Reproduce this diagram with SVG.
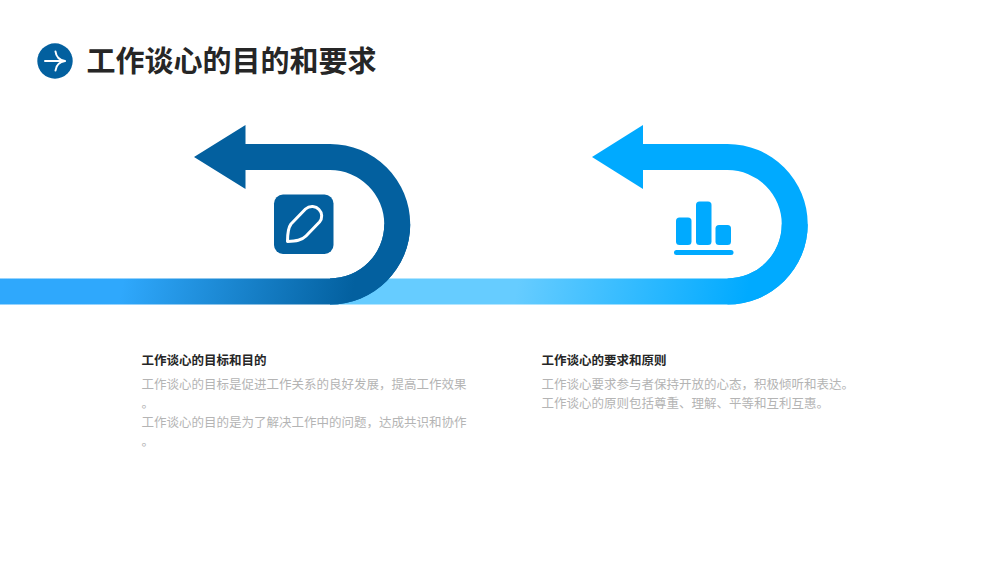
<svg xmlns="http://www.w3.org/2000/svg" width="1000" height="563" viewBox="0 0 1000 563">
<style>
.h{font-family:"Noto Sans CJK SC","Noto Sans",sans-serif;font-weight:700}
.t{font-size:12.500px;fill:#262626}
.b{font-family:"Noto Sans CJK SC","Noto Sans",sans-serif;font-size:12.500px;fill:#b4b4b4}
</style>
<defs>
<linearGradient id="g1" gradientUnits="userSpaceOnUse" x1="125" y1="270" x2="350" y2="310"><stop offset="0" stop-color="#2fa8fc"/><stop offset="1" stop-color="#03609f"/></linearGradient>
<linearGradient id="g2" gradientUnits="userSpaceOnUse" x1="520" y1="270" x2="745" y2="310"><stop offset="0" stop-color="#66ccff"/><stop offset="1" stop-color="#00aaff"/></linearGradient>
</defs>
<rect width="1000" height="563" fill="#fff"/>
<g id="title-icon"><circle cx="55" cy="61" r="17.700" fill="#03609f"/><path d="M45 61H65M65 61C59 60 56 56 55.500 51.500M65 61C59 62 56 66 55.500 70.500" fill="none" stroke="#fff" stroke-width="2" stroke-linecap="round"/></g>
<text id="title" class="h" x="86.500" y="72" font-size="29" fill="#262626">工作谈心的目的和要求</text>
<g id="connectors">
<path d="M592 157L643 125V144H727.500A80.250 80.250 0 0 1 727.500 304.500V278.500A54.250 54.250 0 0 0 727.500 170H643V189z" fill="#00aaff"/>
<path d="M330 278.500H727.500A54.250 54.250 0 0 0 781.750 224.250H807.750A80.250 80.250 0 0 1 727.500 304.500H330z" fill="url(#g2)"/>
<path d="M194 157L245.500 125V144H330A80.250 80.250 0 0 1 330 304.500V278.500A54.250 54.250 0 0 0 330 170H245.500V189z" fill="#03609f"/>
<path d="M0 278.500H330A54.250 54.250 0 0 0 384.250 224.250H410.250A80.250 80.250 0 0 1 330 304.500H0z" fill="url(#g1)"/>
</g>
<g id="node-1">
<rect x="274" y="194.500" width="59.500" height="59.500" rx="9" fill="#03609f"/>
<path d="M287.500 241.500C287.500 233 288 228 291 224L305.500 209C310 205 316 206 319 209.500C322.500 213 322.500 218.500 319.500 222L306 236C301.500 240.500 296 241 287.500 241.500z" fill="none" stroke="#fff" stroke-width="3" stroke-linejoin="round"/>
<text class="h t" x="141.500" y="365">工作谈心的目标和目的</text>
<text class="b" x="141.500" y="388.500">工作谈心的目标是促进工作关系的良好发展，提高工作效果</text>
<text class="b" x="141.500" y="407.500">。</text>
<text class="b" x="141.500" y="426.500">工作谈心的目的是为了解决工作中的问题，达成共识和协作</text>
<text class="b" x="141.500" y="445.500">。</text>
</g>
<g id="node-2" fill="#00aaff">
<rect x="676" y="217.500" width="15.500" height="27.500" rx="3.500"/>
<rect x="696" y="201.500" width="15.500" height="43.500" rx="3.500"/>
<rect x="715.500" y="225" width="15.500" height="20" rx="3.500"/>
<rect x="674" y="250" width="59.500" height="5" rx="2.500"/>
<text class="h t" x="541.500" y="365">工作谈心的要求和原则</text>
<text class="b" x="541.500" y="388.500">工作谈心要求参与者保持开放的心态，积极倾听和表达。</text>
<text class="b" x="541.500" y="407.500">工作谈心的原则包括尊重、理解、平等和互利互惠。</text>
</g>
</svg>
